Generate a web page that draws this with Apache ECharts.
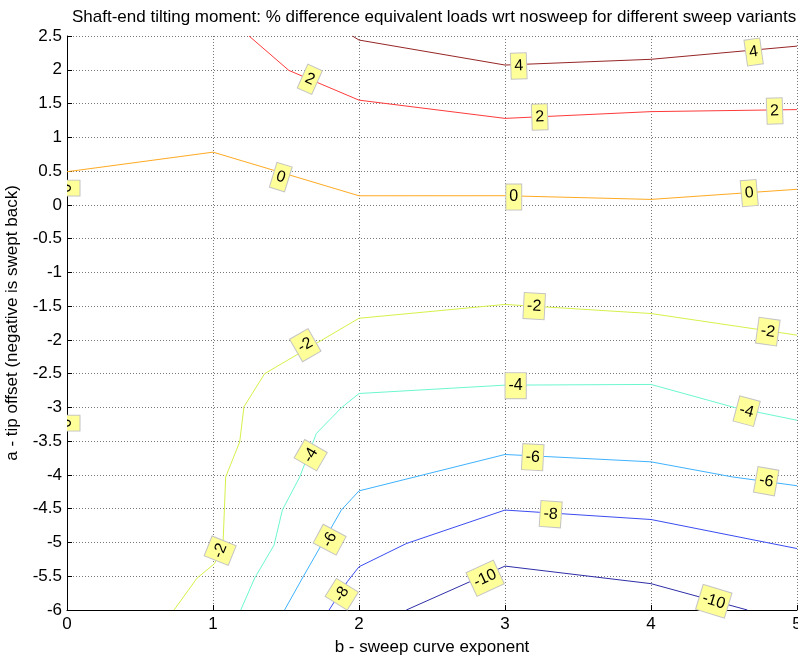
<!DOCTYPE html>
<html>
<head>
<meta charset="utf-8">
<script src="https://cdn.jsdelivr.net/npm/echarts@6/dist/echarts.min.js"></script>
<style>
  html, body { margin: 0; padding: 0; background: #fff; overflow: hidden; }
  #chart { width: 798px; height: 659px; }
</style>
</head>
<body>
<div id="chart"></div>
<script>
// Contour levels of the % difference and their line colours
const levels = [4, 2, 0, -2, -4, -6, -8, -10];
const levelColors = ['#962626', '#ff3a3a', '#ffaa22', '#d6f04a', '#6cf7cf', '#3fb2ff', '#3a4cf0', '#2e2ea8'];

// Contour paths as [b, a] vertices
const contour4 = [[1.955, 2.5], [2.0, 2.44], [3.0, 2.07], [4.0, 2.155], [5.0, 2.35]];
const contour2 = [[1.247, 2.5], [1.52, 1.99], [2.0, 1.55], [3.0, 1.28], [4.0, 1.38], [5.0, 1.41]];
const contour0 = [[0, 0.49], [1.0, 0.78], [2.0, 0.134], [3.0, 0.135], [4.0, 0.08], [5.0, 0.23]];
const contourM2 = [[0.733, -6], [0.89, -5.53], [1.012, -5.31], [1.069, -5.0], [1.087, -4.03], [1.183, -3.51],
                   [1.212, -2.99], [1.354, -2.5], [2.0, -1.68], [3.0, -1.475], [4.0, -1.61], [5.0, -1.93]];
const contourM4 = [[1.19, -6], [1.286, -5.525], [1.418, -5.04], [1.475, -4.52], [1.594, -4.03], [1.708, -3.386],
                   [1.879, -3.006], [2.0, -2.794], [3.0, -2.67], [4.0, -2.66], [4.57, -3.0], [5.0, -3.19]];
const contourM6 = [[1.49, -6], [1.617, -5.51], [1.879, -4.52], [2.0, -4.236], [3.0, -3.697], [4.0, -3.806],
                   [4.56, -4.03], [5.0, -4.16]];
const contourM8 = [[1.795, -6], [1.92, -5.58], [2.0, -5.36], [2.324, -5.016], [3.0, -4.52], [4.0, -4.66], [5.0, -5.09]];
const contourM10 = [[2.324, -6], [3.0, -5.35], [4.0, -5.61], [4.66, -6]];
const contourPaths = [contour4, contour2, contour0, contourM2, contourM4, contourM6, contourM8, contourM10];

// Inline contour labels: [b, a, text, angle in degrees]
const contourLabels = [
  [3.094, 2.056, '4', 2], [4.703, 2.263, '4', 8],
  [1.663, 1.859, '2', -24], [3.238, 1.30, '2', 2], [4.847, 1.389, '2', 2],
  [1.464, 0.411, '0', -17], [3.060, 0.115, '0', 0], [4.673, 0.174, '0', 5],
  [3.2, -1.5, '-2', -3], [4.80, -1.878, '-2', -8], [1.632, -2.078, '-2', 30], [1.049, -5.122, '-2', 68],
  [3.073, -2.678, '-4', 0], [4.655, -3.056, '-4', -15], [1.669, -3.707, '-4', 60],
  [3.19, -3.737, '-6', -3], [4.789, -4.093, '-6', -10], [1.799, -4.959, '-6', 62],
  [3.313, -4.581, '-8', -4], [1.882, -5.767, '-8', 58],
  [2.864, -5.53, '-10', 25], [4.43, -5.87, '-10', -17]
];
// Labels of the zero contour lying on the b = 0 edge
const edgeLabels = [[0, 0.248, '0', 90], [0, -3.233, '0', 90]];

const FONT = 'Liberation Sans, Arial, Helvetica, sans-serif';

function labelItem(params, api) {
  const p = api.coord([api.value(0), api.value(1)]);
  return {
    type: 'group',
    x: p[0],
    y: p[1],
    rotation: api.value(3) * Math.PI / 180,
    children: [{
      type: 'text',
      style: {
        text: String(api.value(2)),
        x: 0, y: 0,
        align: 'center',
        verticalAlign: 'middle',
        font: '16px ' + FONT,
        fill: '#000',
        backgroundColor: '#ffff9a',
        borderColor: '#c4c4c4',
        borderWidth: 1,
        padding: [5, 3, 4, 3]
      }
    }]
  };
}

const series = contourPaths.map((path, i) => ({
  type: 'line',
  name: String(levels[i]),
  data: path,
  showSymbol: false,
  symbol: 'none',
  smooth: false,
  silent: true,
  lineStyle: { color: levelColors[i], width: 1 },
  z: 2
}));

series.push({
  type: 'custom',
  data: contourLabels,
  renderItem: labelItem,
  dimensions: ['b', 'a', 'label', 'angle'],
  encode: { x: 0, y: 1 },
  clip: false,
  silent: true,
  z: 5
});
series.push({
  type: 'custom',
  data: edgeLabels,
  renderItem: labelItem,
  dimensions: ['b', 'a', 'label', 'angle'],
  encode: { x: 0, y: 1 },
  clip: true,
  silent: true,
  z: 5
});

const chart = echarts.init(document.getElementById('chart'), null, { renderer: 'canvas', width: 798, height: 659 });
chart.setOption({
  animation: false,
  backgroundColor: '#fff',
  textStyle: { fontFamily: FONT },
  title: {
    text: 'Shaft-end tilting moment: % difference equivalent loads wrt nosweep for different sweep variants',
    left: 67,
    top: 4,
    textStyle: { fontSize: 17, fontWeight: 'normal', color: '#000', fontFamily: FONT }
  },
  grid: { left: 67, top: 36, width: 730, height: 574, containLabel: false, outerBoundsMode: 'none' },
  xAxis: {
    type: 'value',
    min: 0, max: 5, interval: 1,
    name: 'b - sweep curve exponent',
    nameLocation: 'middle',
    nameGap: 29,
    nameTextStyle: { fontSize: 17, color: '#000', fontFamily: FONT },
    axisLine: { show: true, onZero: false, lineStyle: { color: '#000', width: 1 } },
    axisTick: { show: true, inside: true, length: 5, lineStyle: { color: '#000' } },
    axisLabel: { fontSize: 17, color: '#000', margin: 6, fontFamily: FONT },
    splitLine: { show: true, lineStyle: { color: '#777', type: [1, 2], width: 1 } }
  },
  yAxis: {
    type: 'value',
    min: -6, max: 2.5, interval: 0.5,
    name: 'a - tip offset (negative is swept back)',
    nameLocation: 'middle',
    nameGap: 46,
    nameTextStyle: { fontSize: 17, color: '#000', fontFamily: FONT },
    axisLine: { show: true, onZero: false, lineStyle: { color: '#000', width: 1 } },
    axisTick: { show: true, inside: true, length: 5, lineStyle: { color: '#000' } },
    axisLabel: { fontSize: 17, color: '#000', margin: 5, fontFamily: FONT },
    splitLine: { show: true, lineStyle: { color: '#777', type: [1, 2], width: 1 } }
  },
  series: series
});
</script>
</body>
</html>
